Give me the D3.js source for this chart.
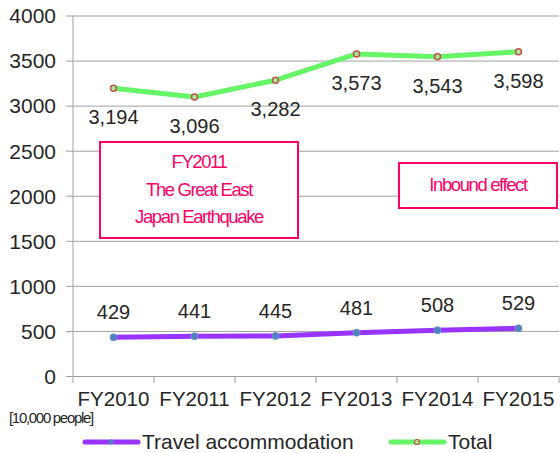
<!DOCTYPE html>
<html><head><meta charset="utf-8">
<script src="https://cdn.jsdelivr.net/npm/d3@7"></script>
<style>body{margin:0;background:#fff;}svg{display:block;font-family:"Liberation Sans",Arial,sans-serif;}</style>
</head><body>
<svg id="c" width="560" height="453"></svg>
<script>
const categories = ["FY2010","FY2011","FY2012","FY2013","FY2014","FY2015"];
const travelValues = [429, 441, 445, 481, 508, 529];
const totalValues = [3194, 3096, 3282, 3573, 3543, 3598];
const yTicks = [0, 500, 1000, 1500, 2000, 2500, 3000, 3500, 4000];
const seriesNames = ["Travel accommodation", "Total"];
const unitLabel = "[10,000 people]";
const note1 = ["FY2011", "The Great East", "Japan Earthquake"];
const note2 = ["Inbound effect"];

const svg = d3.select("#c");
const x = d3.scaleBand().domain(categories).range([73, 559]).padding(0);
const y = d3.scaleLinear().domain([0, 4000]).range([376, 15.5]);
const txt = "#262626", grid = "#a0a0a0", pink = "#ff0066";

// gridlines + y labels
const yAx = svg.append("g").attr("transform", "translate(73,0)")
  .call(d3.axisLeft(y).tickValues(yTicks).tickSize(-486).tickSizeOuter(0).tickPadding(17).tickFormat(d3.format("d")));
yAx.select(".domain").remove();
yAx.selectAll(".tick line").attr("stroke", grid).attr("x1", -7);
yAx.selectAll(".tick text").attr("fill", txt).attr("font-size", 21).attr("dy", "0.35em");
svg.append("line").attr("x1", 73).attr("x2", 73).attr("y1", y(4000)).attr("y2", y(0)).attr("stroke", grid);

// x axis
const xAx = svg.append("g").attr("transform", `translate(0,${y(0)})`)
  .call(d3.axisBottom(x).tickSize(0).tickPadding(15));
xAx.select(".domain").attr("stroke", grid);
xAx.selectAll(".tick text").attr("fill", txt).attr("font-size", 20.5);
xAx.selectAll("line.bt").data(d3.range(categories.length + 1)).enter().append("line")
  .attr("x1", i => 73 + i * x.bandwidth()).attr("x2", i => 73 + i * x.bandwidth())
  .attr("y1", 0).attr("y2", 7).attr("stroke", grid);

const cx = d => x(d) + x.bandwidth() / 2;
const line = d3.line().x(d => cx(d.c)).y(d => y(d.v));
const tot = categories.map((c, i) => ({c, v: totalValues[i]}));
const trv = categories.map((c, i) => ({c, v: travelValues[i]}));

svg.append("path").datum(tot).attr("d", line).attr("fill", "none").attr("stroke", "#66f566").attr("stroke-width", 5).attr("stroke-linejoin", "round");
svg.append("path").datum(trv).attr("d", line).attr("fill", "none").attr("stroke", "#9933ff").attr("stroke-width", 5).attr("stroke-linejoin", "round");
svg.selectAll("circle.t").data(tot).enter().append("circle").attr("class", "t")
  .attr("cx", d => cx(d.c)).attr("cy", d => y(d.v)).attr("r", 3).attr("fill", "#a8e89a").attr("stroke", "#c0504d").attr("stroke-width", 1.5);
svg.selectAll("circle.r").data(trv).enter().append("circle").attr("class", "r")
  .attr("cx", d => cx(d.c)).attr("cy", d => y(d.v)).attr("r", 3.5).attr("fill", "#4f81bd").attr("stroke", "#6f95c8").attr("stroke-width", 1);

const fmt = d3.format(",");
svg.selectAll("text.tl").data(tot).enter().append("text")
  .attr("x", d => cx(d.c)).attr("y", d => y(d.v) + 29).attr("dy", "0.35em").attr("text-anchor", "middle")
  .attr("font-size", 20).attr("fill", txt).text(d => fmt(d.v));
svg.selectAll("text.rl").data(trv).enter().append("text")
  .attr("x", d => cx(d.c)).attr("y", d => y(d.v) - 25).attr("dy", "0.35em").attr("text-anchor", "middle")
  .attr("font-size", 20).attr("fill", txt).text(d => fmt(d.v));

// annotation boxes
function box(x0, y0, w, h, lines, ys) {
  svg.append("rect").attr("x", x0).attr("y", y0).attr("width", w).attr("height", h).attr("fill", "#fff").attr("stroke", pink).attr("stroke-width", 2);
  lines.forEach((t, i) => svg.append("text").attr("x", x0 + w / 2).attr("y", ys[i]).attr("dy", "0.35em")
    .attr("text-anchor", "middle").attr("font-size", 18.5).attr("letter-spacing", -1.4).attr("fill", pink).text(t));
}
box(100, 142, 198, 96, note1, [162, 190, 217]);
box(399, 163, 158, 45, note2, [185]);

// unit label
svg.append("text").attr("x", 9).attr("y", 418).attr("dy", "0.35em").attr("font-size", 15).attr("letter-spacing", -1.3).attr("fill", txt).text(unitLabel);

// legend
const lg = [{x: 85, col: "#9933ff", name: seriesNames[0], m: "r"}, {x: 391, col: "#66f566", name: seriesNames[1], m: "t"}];
lg.forEach(l => {
  svg.append("line").attr("x1", l.x).attr("x2", l.x + 53).attr("y1", 442).attr("y2", 442).attr("stroke", l.col).attr("stroke-width", 5).attr("stroke-linecap", "round");
  if (l.m === "r") svg.append("circle").attr("cx", l.x + 26).attr("cy", 442).attr("r", 2.5).attr("fill", "#4f81bd");
  else svg.append("circle").attr("cx", l.x + 26).attr("cy", 442).attr("r", 2.5).attr("fill", "#a8e89a").attr("stroke", "#c0504d").attr("stroke-width", 1.2);
  svg.append("text").attr("x", l.x + 57).attr("y", 442).attr("dy", "0.35em").attr("font-size", 21).attr("fill", txt).text(l.name);
});
</script>
</body></html>
